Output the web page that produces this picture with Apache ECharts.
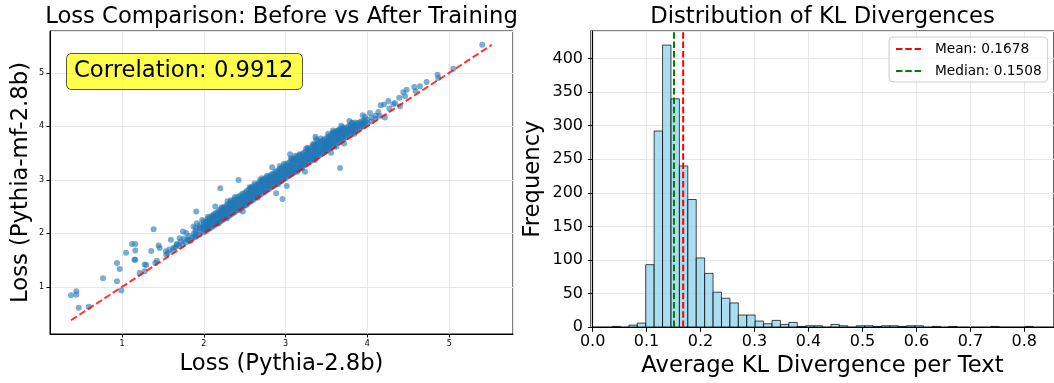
<!DOCTYPE html>
<html>
<head>
<meta charset="utf-8">
<script src="https://cdn.jsdelivr.net/npm/echarts@6/dist/echarts.min.js"></script>
<style>
html,body{margin:0;padding:0;background:#fff}
#main{width:1054px;height:383px}
</style>
</head>
<body>
<div id="main"></div>
<script>
// ---- left panel: loss before / after ----
// isolated points (x = Pythia-2.8b loss, y = Pythia-mf-2.8b loss)
var sparsePoints = [
  [0.377,0.845],[0.442,0.919],[0.442,0.851],[0.471,0.609],[0.593,0.628],[0.768,1.161],
  [0.939,1.447],[0.939,1.105],[0.972,1.335],[0.992,0.932],[1.049,1.639],[1.122,1.80],
  [1.163,1.80],[1.163,1.682],[1.151,1.509],[1.163,1.509],[1.216,1.26],[1.277,1.416],
  [1.297,1.409],[1.277,1.291],[1.358,1.670],[1.387,2.079],[1.407,1.447],[1.448,1.775],
  [1.460,1.726],[1.427,1.49],[1.537,1.664],[1.541,1.60],[1.598,1.88],[1.631,1.732],
  [1.672,1.788],[1.745,2.036],[1.704,1.91],[1.786,2.005],[1.814,1.88],[1.875,2.129],
  [1.908,2.408],[1.916,2.19],[1.956,2.116],[2.119,2.315],[2.14,2.50],[2.201,2.842],
  [2.282,2.284],[2.425,2.997],[2.477,2.408],[2.689,2.997],[2.836,3.233],[2.884,2.749],
  [2.962,2.643],[3.015,2.885],[3.055,3.48],[3.063,3.40],[3.169,3.48],[3.238,3.152],
  [3.251,3.586],[3.365,3.803],[3.373,3.76],[3.349,3.667],[3.503,3.679],[3.556,3.505],
  [3.585,3.89],[3.666,3.22],[3.715,3.679],[3.645,3.927],[3.808,4.064],[3.943,4.206],
  [3.971,4.175],[4.032,4.25],[4.134,4.268],[4.162,4.392],[4.203,4.405],[4.256,4.473],
  [4.213,4.163],[4.268,4.33],[4.317,4.411],[4.337,4.436],[4.398,4.374],[4.39,4.535],
  [4.46,4.56],[4.48,4.684],[4.44,4.634],[4.573,4.733],[4.589,4.659],[4.643,4.746],
  [4.724,4.826],[4.858,4.963],[4.866,4.901],[5.05,5.074],[5.404,5.521],
  [1.56,1.63],[1.58,1.70],[1.62,1.68],[1.65,1.74],[1.67,1.80],[1.70,1.76],[1.72,1.85],
  [1.74,1.79],[1.76,1.90],[1.78,1.83],[1.80,1.88],[1.82,1.95],[1.84,1.86],[1.86,1.92],
  [1.88,2.00],[1.89,1.94],[2.33,2.62],[2.58,2.86],[2.77,3.07],[3.12,3.45],[3.43,3.77],
  [3.78,4.10],[2.52,2.53],[3.20,3.21],[3.48,3.55],
  // ragged band edges
  [2.05,2.31],[2.22,2.49],[2.38,2.68],[2.56,2.86],[2.71,3.03],[2.93,3.26],[3.08,3.40],
  [3.27,3.60],[3.39,3.73],[3.52,3.86],[3.68,4.01],[2.18,2.19],[2.44,2.44],[2.66,2.67],
  [2.91,2.92],[3.14,3.15],[3.36,3.37],[3.62,3.62],[3.84,3.86],[1.98,2.25],[2.29,2.60],
  [2.62,2.93],[2.98,3.30],[3.33,3.66],[3.58,3.92]
];
// dense band, read column by column: [x, [y values]]
var bandColumns = [
  [1.90,[1.93,1.99,2.05,2.10]],      [1.95,[1.98,2.03,2.09,2.15]],
  [2.00,[2.02,2.07,2.12,2.17,2.22]], [2.025,[2.04,2.10,2.15,2.20]],
  [2.05,[2.07,2.12,2.18,2.23,2.27]], [2.075,[2.09,2.15,2.20,2.25,2.30]],
  [2.10,[2.12,2.17,2.22,2.28,2.33]], [2.125,[2.14,2.20,2.25,2.31,2.36]],
  [2.15,[2.17,2.22,2.27,2.33,2.38]], [2.175,[2.19,2.25,2.30,2.36,2.41]],
  [2.20,[2.22,2.27,2.33,2.38,2.44]], [2.225,[2.24,2.30,2.36,2.41,2.47]],
  [2.25,[2.27,2.32,2.38,2.44,2.49]], [2.275,[2.29,2.35,2.41,2.47,2.52]],
  [2.30,[2.32,2.38,2.43,2.49,2.55]], [2.325,[2.34,2.40,2.46,2.52,2.58]],
  [2.35,[2.37,2.43,2.48,2.54,2.60]], [2.375,[2.39,2.45,2.51,2.57,2.63]],
  [2.40,[2.42,2.48,2.54,2.60,2.66]], [2.425,[2.44,2.51,2.57,2.63,2.69]],
  [2.45,[2.47,2.53,2.59,2.65,2.71]], [2.475,[2.49,2.56,2.62,2.68,2.74]],
  [2.50,[2.52,2.58,2.64,2.70,2.76]], [2.525,[2.55,2.61,2.67,2.73,2.79]],
  [2.55,[2.57,2.63,2.69,2.75,2.81]], [2.575,[2.60,2.66,2.72,2.78,2.84]],
  [2.60,[2.62,2.68,2.74,2.80,2.86]], [2.625,[2.65,2.71,2.77,2.83,2.89]],
  [2.65,[2.68,2.74,2.80,2.86,2.91]], [2.675,[2.71,2.77,2.83,2.89,2.95]],
  [2.70,[2.73,2.79,2.85,2.91,2.97]], [2.725,[2.76,2.82,2.88,2.94,3.00]],
  [2.75,[2.78,2.84,2.90,2.96,3.02]], [2.775,[2.81,2.87,2.93,2.99,3.05]],
  [2.80,[2.83,2.89,2.95,3.01,3.07]], [2.825,[2.86,2.92,2.98,3.04,3.10]],
  [2.85,[2.88,2.94,3.00,3.06,3.12]], [2.875,[2.91,2.97,3.03,3.09,3.15]],
  [2.90,[2.93,2.99,3.05,3.11,3.17]], [2.925,[2.96,3.02,3.08,3.14,3.20]],
  [2.95,[2.98,3.04,3.10,3.16,3.22]], [2.975,[3.01,3.07,3.13,3.19,3.25]],
  [3.00,[3.03,3.09,3.15,3.21,3.28]], [3.025,[3.06,3.12,3.18,3.24,3.31]],
  [3.05,[3.08,3.14,3.20,3.26,3.33]], [3.075,[3.11,3.17,3.23,3.29,3.36]],
  [3.10,[3.13,3.19,3.25,3.32,3.38]], [3.125,[3.16,3.22,3.28,3.35,3.41]],
  [3.15,[3.18,3.24,3.31,3.37,3.43]], [3.175,[3.21,3.27,3.34,3.40,3.46]],
  [3.20,[3.24,3.30,3.36,3.42,3.48]], [3.225,[3.27,3.33,3.39,3.45,3.51]],
  [3.25,[3.29,3.35,3.41,3.47,3.53]], [3.275,[3.32,3.38,3.44,3.50,3.56]],
  [3.30,[3.34,3.40,3.46,3.52,3.58]], [3.325,[3.37,3.43,3.49,3.55,3.61]],
  [3.35,[3.39,3.45,3.51,3.57,3.63]], [3.375,[3.42,3.48,3.54,3.60,3.66]],
  [3.40,[3.44,3.50,3.56,3.62,3.68]], [3.425,[3.47,3.53,3.59,3.65,3.71]],
  [3.45,[3.49,3.55,3.61,3.67,3.73]], [3.475,[3.52,3.58,3.64,3.70,3.76]],
  [3.50,[3.54,3.60,3.66,3.72,3.78]], [3.525,[3.57,3.63,3.69,3.75,3.81]],
  [3.55,[3.59,3.65,3.71,3.77,3.83]], [3.575,[3.62,3.68,3.74,3.80,3.86]],
  [3.60,[3.65,3.71,3.77,3.83,3.88]], [3.625,[3.68,3.74,3.80,3.86,3.91]],
  [3.65,[3.70,3.76,3.82,3.88,3.93]], [3.675,[3.73,3.79,3.85,3.91,3.96]],
  [3.70,[3.75,3.81,3.87,3.93,3.98]], [3.725,[3.78,3.84,3.90,3.96]],
  [3.75,[3.80,3.86,3.92,3.98]],      [3.775,[3.83,3.89,3.95,4.01]],
  [3.80,[3.85,3.91,3.97,4.03]],      [3.825,[3.88,3.94,4.00,4.05]],
  [3.85,[3.90,3.96,4.02,4.07]],      [3.875,[3.93,3.99,4.05]],
  [3.90,[3.95,4.01,4.07]],           [3.925,[3.98,4.04,4.09]],
  [3.95,[4.00,4.06,4.11]],           [3.975,[4.03,4.09]],
  [4.00,[4.05,4.12]], [4.05,[4.09,4.16]], [4.10,[4.14,4.20]], [4.15,[4.19]]
];
var diagLine = [[0.377,0.377],[5.52,5.52]];
var lossTicks = [1,2,3,4,5];
var correlation = 0.9912;

// ---- right panel: KL histogram ----
var binStart = 0.036, binWidth = 0.0156;
var klCounts = [1,0,3,6,93,292,420,340,240,190,103,80,52,43,36,18,18,9,5,10,
                4,7,1,2,2,0,4,2,0,2,2,1,2,2,1,2,2,0,1,0,1,0,0,0,0,1,0,0,0,1];
var meanKL = 0.1678, medianKL = 0.1508;

var FONT = 'DejaVu Sans';

var scatterData = sparsePoints.slice();
bandColumns.forEach(function(c){
  c[1].forEach(function(y){ scatterData.push([c[0], y]); });
});

var histData = [];
for (var i = 0; i < klCounts.length; i++) {
  if (klCounts[i] > 0) {
    histData.push([binStart + i*binWidth, binStart + (i+1)*binWidth, klCounts[i]]);
  }
}
var histTop = Math.max.apply(null, klCounts) * 1.05;

var chart = echarts.init(document.getElementById('main'));
var option = {
  animation: false,
  textStyle: {fontFamily: FONT},
  title: [
    {text: 'Loss Comparison: Before vs After Training', left: 281.5, top: 6, textAlign: 'center', padding: 0,
     textStyle: {fontFamily: FONT, fontSize: 22.7, fontWeight: 'normal', color: '#000'}},
    {text: 'Distribution of KL Divergences', left: 822.5, top: 6, textAlign: 'center', padding: 0,
     textStyle: {fontFamily: FONT, fontSize: 22.7, fontWeight: 'normal', color: '#000'}}
  ],
  legend: {
    data: ['Mean: ' + meanKL.toFixed(4), 'Median: ' + medianKL.toFixed(4)],
    orient: 'vertical', left: 889, top: 37,
    itemWidth: 27, itemHeight: 14, itemGap: 8,
    padding: [5, 6, 4, 6],
    borderColor: '#cccccc', borderWidth: 1, borderRadius: 4,
    backgroundColor: 'rgba(255,255,255,0.8)',
    itemStyle: {opacity: 0},
    textStyle: {fontFamily: FONT, fontSize: 13.7, color: '#000', padding: [0, 0, 0, 7]}
  },
  grid: [
    {left: 50, top: 31, width: 463, height: 303, show: true, borderColor: '#000', borderWidth: 1},
    {left: 591, top: 31, width: 463, height: 303, show: true, borderColor: '#000', borderWidth: 1.2}
  ],
  xAxis: [
    {gridIndex: 0, type: 'value', min: 0.12, max: 5.78, splitNumber: 5,
     name: 'Loss (Pythia-2.8b)', nameLocation: 'middle', nameGap: 18,
     nameTextStyle: {fontFamily: FONT, fontSize: 22.7, color: '#000'},
     axisLine: {lineStyle: {color: '#000', width: 1}},
     axisTick: {length: 3.5, lineStyle: {color: '#000'}},
     axisLabel: {fontSize: 8, color: '#000', margin: 6, showMinLabel: false, showMaxLabel: false,
                 formatter: function(v){ return lossTicks.indexOf(v) >= 0 ? String(v) : ''; }},
     splitLine: {show: true, lineStyle: {color: '#e7e7e7', width: 1}}},
    {gridIndex: 1, type: 'value', min: -0.003, max: 0.855, splitNumber: 8,
     name: 'Average KL Divergence per Text', nameLocation: 'middle', nameGap: 26,
     nameTextStyle: {fontFamily: FONT, fontSize: 22.7, color: '#000'},
     axisLine: {lineStyle: {color: '#000', width: 1.2}},
     axisTick: {length: 4.7, lineStyle: {color: '#000'}},
     axisLabel: {fontSize: 16, color: '#000', margin: 7, showMinLabel: false, showMaxLabel: false,
                 formatter: function(v){ return v.toFixed(1); }},
     splitLine: {show: true, lineStyle: {color: '#e7e7e7', width: 1}}}
  ],
  yAxis: [
    {gridIndex: 0, type: 'value', min: 0.12, max: 5.78, splitNumber: 5,
     name: 'Loss (Pythia-mf-2.8b)', nameLocation: 'middle', nameGap: 17,
     nameTextStyle: {fontFamily: FONT, fontSize: 22.7, color: '#000'},
     axisLine: {show: true, lineStyle: {color: '#000', width: 1}},
     axisTick: {show: true, length: 3.5, lineStyle: {color: '#000'}},
     axisLabel: {fontSize: 8, color: '#000', margin: 6, showMinLabel: false, showMaxLabel: false,
                 formatter: function(v){ return lossTicks.indexOf(v) >= 0 ? String(v) : ''; }},
     splitLine: {show: true, lineStyle: {color: '#e7e7e7', width: 1}}},
    {gridIndex: 1, type: 'value', min: 0, max: histTop, interval: 50,
     name: 'Frequency', nameLocation: 'middle', nameGap: 46,
     nameTextStyle: {fontFamily: FONT, fontSize: 22.7, color: '#000'},
     axisLine: {show: true, lineStyle: {color: '#000', width: 1.2}},
     axisTick: {show: true, length: 4.7, lineStyle: {color: '#000'}},
     axisLabel: {fontSize: 16, color: '#000', margin: 8, showMaxLabel: false},
     splitLine: {show: true, lineStyle: {color: '#e7e7e7', width: 1}}}
  ],
  graphic: [
    {type: 'rect', left: 66, top: 53, z: 100,
     shape: {width: 236, height: 36, r: 5},
     style: {fill: 'rgba(255,255,0,0.7)', stroke: 'rgba(0,0,0,0.65)', lineWidth: 1}},
    {type: 'text', left: 74, top: 59.5, z: 101,
     style: {text: 'Correlation: ' + correlation.toFixed(4), font: '22.7px "DejaVu Sans"', fill: '#000'}}
  ],
  series: [
    {type: 'scatter', xAxisIndex: 0, yAxisIndex: 0, data: scatterData,
     symbolSize: 6, itemStyle: {color: '#1f77b4', opacity: 0.6}},
    {type: 'line', xAxisIndex: 0, yAxisIndex: 0, data: diagLine, symbol: 'none',
     lineStyle: {color: 'rgba(255,0,0,0.8)', width: 2, type: [7, 3]}},
    {type: 'custom', xAxisIndex: 1, yAxisIndex: 1, data: histData,
     encode: {x: [0, 1], y: 2},
     renderItem: function(params, api) {
       var p0 = api.coord([api.value(0), api.value(2)]);
       var p1 = api.coord([api.value(1), 0]);
       return {type: 'rect',
               shape: {x: p0[0], y: p0[1], width: p1[0] - p0[0], height: p1[1] - p0[1]},
               style: {fill: 'rgba(135,206,235,0.7)', stroke: 'rgba(0,0,0,0.7)', lineWidth: 1}};
     }},
    {type: 'line', name: 'Mean: ' + meanKL.toFixed(4), xAxisIndex: 1, yAxisIndex: 1,
     data: [[meanKL, 0], [meanKL, histTop]], symbol: 'none', z: 5,
     lineStyle: {color: '#ff0000', width: 2, type: [6.5, 2.8]}, itemStyle: {color: '#ff0000'}},
    {type: 'line', name: 'Median: ' + medianKL.toFixed(4), xAxisIndex: 1, yAxisIndex: 1,
     data: [[medianKL, 0], [medianKL, histTop]], symbol: 'none', z: 5,
     lineStyle: {color: '#008000', width: 2, type: [6.5, 2.8]}, itemStyle: {color: '#008000'}}
  ]
};
chart.setOption(option);
</script>
</body>
</html>
